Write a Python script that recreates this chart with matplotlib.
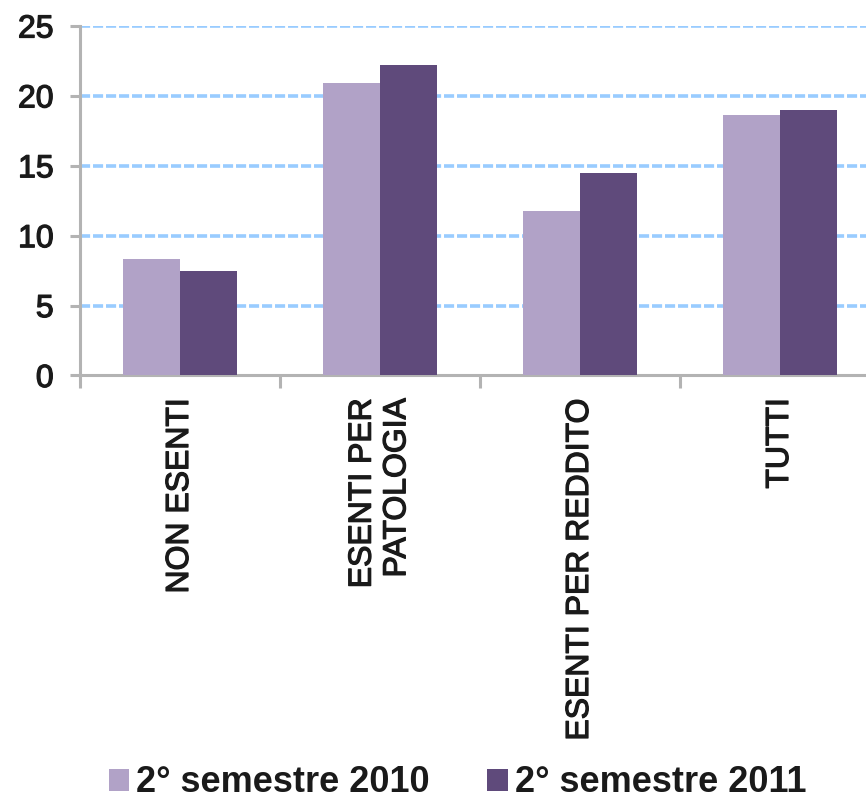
import numpy as np
import matplotlib
matplotlib.use("Agg")
import matplotlib.pyplot as plt
import matplotlib.patheffects as pe
from matplotlib.ticker import FixedLocator

# Valori per categoria di esenzione
categorie = ["NON ESENTI", "ESENTI PER\nPATOLOGIA", "ESENTI PER REDDITO", "TUTTI"]
sem_2010 = [8.35, 20.9, 11.8, 18.65]
sem_2011 = [7.5, 22.2, 14.5, 19.0]
serie = ["2° semestre 2010", "2° semestre 2011"]
y_ticks = [0, 5, 10, 15, 20, 25]

col_2010 = "#b1a2c7"
col_2011 = "#5f4a7b"
col_asse = "#b3b3b3"
col_testo = "#1a1a1a"

plt.rcParams["font.family"] = ["Liberation Sans", "DejaVu Sans"]

# testo leggermente ispessito
spesso = [pe.withStroke(linewidth=0.9, foreground=col_testo)]

fig = plt.figure(figsize=(8.66, 8.01), dpi=100)
ax = fig.add_axes([80 / 866, 1 - 375.5 / 801, 800 / 866, 349.5 / 801])

x = np.arange(len(categorie))
w = 0.285
ax.bar(x - w / 2, sem_2010, width=w, color=col_2010, label=serie[0], zorder=3)
ax.bar(x + w / 2, sem_2011, width=w, color=col_2011, label=serie[1], zorder=3)

ax.set_xlim(-0.5, len(categorie) - 0.5)
ax.set_ylim(0, 25)

# griglia tratteggiata azzurra (non sull'asse a zero)
ax.set_yticks(y_ticks)
ax.yaxis.grid(True, color="#99ccff", linewidth=2.6, linestyle=(0, (2.8, 0.8)), zorder=0)
ax.set_axisbelow(True)
ax.yaxis.get_gridlines()[0].set_visible(False)

for s in ["top", "right"]:
    ax.spines[s].set_visible(False)
for s in ["left", "bottom"]:
    ax.spines[s].set_color(col_asse)
    ax.spines[s].set_linewidth(2.2)

ax.tick_params(axis="y", direction="out", length=7, width=2.2, color=col_asse,
               labelsize=23, pad=12, labelcolor=col_testo)

# etichette al centro, tacche ai bordi delle categorie
ax.set_xticks(x)
ax.set_xticklabels(categorie, rotation=90, ha="center", va="top",
                   multialignment="right", fontsize=23, color=col_testo)
ax.tick_params(axis="x", which="major", length=0, pad=16)
ax.xaxis.set_minor_locator(FixedLocator(np.arange(-0.5, len(categorie), 1.0)))
ax.tick_params(axis="x", which="minor", direction="out", length=9, width=2.2, color=col_asse)

for t in ax.get_xticklabels() + ax.get_yticklabels():
    t.set_path_effects(spesso)

leg = fig.legend(loc="center", bbox_to_anchor=(457.5 / 866, 1 - 783 / 801), ncol=2,
                 frameon=False, prop={"size": 26, "weight": "bold"},
                 handlelength=0.56, handleheight=0.56,
                 handletextpad=0.2, columnspacing=1.6)
for t in leg.get_texts():
    t.set_color(col_testo)

fig.savefig("out.png", dpi=100)
